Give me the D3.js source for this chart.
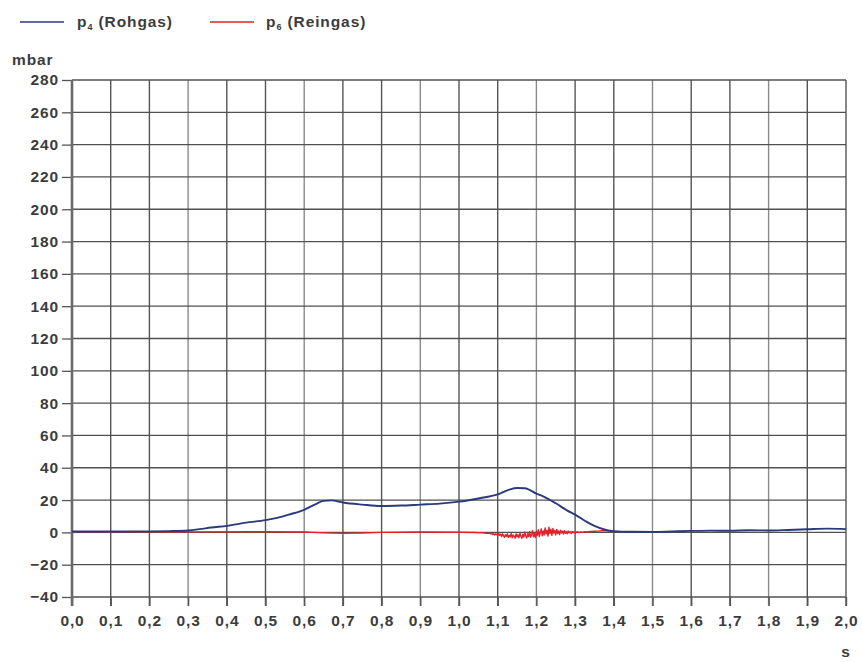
<!DOCTYPE html>
<html>
<head>
<meta charset="utf-8">
<script src="https://cdn.jsdelivr.net/npm/d3@7"></script>
<style>
  html, body { margin: 0; padding: 0; background: #ffffff; }
  svg text { font-family: "Liberation Sans", Arial, sans-serif; font-weight: bold; fill: #3c3c3c; letter-spacing: 0.9px; }
</style>
</head>
<body>
<svg id="chart" width="862" height="662"></svg>
<script>
// Axis tick values
const xTicks = [0, 0.1, 0.2, 0.3, 0.4, 0.5, 0.6, 0.7, 0.8, 0.9, 1.0, 1.1, 1.2, 1.3, 1.4, 1.5, 1.6, 1.7, 1.8, 1.9, 2.0];
const yTicks = [-40, -20, 0, 20, 40, 60, 80, 100, 120, 140, 160, 180, 200, 220, 240, 260, 280];

// p4 (Rohgas) – raw gas pressure, mbar over time in s
const p4Time = [0, 0.1, 0.2, 0.25, 0.3, 0.33, 0.36, 0.4, 0.45, 0.5, 0.53, 0.56, 0.6, 0.63, 0.65, 0.67,
  0.7, 0.75, 0.8, 0.85, 0.9, 0.95, 1.0, 1.05, 1.1, 1.13, 1.15, 1.17, 1.2, 1.22, 1.25, 1.28, 1.3,
  1.33, 1.35, 1.38, 1.4, 1.45, 1.5, 1.55, 1.6, 1.65, 1.7, 1.75, 1.8, 1.85, 1.9, 1.95, 2.0];
const p4Values = [0.5, 0.5, 0.6, 0.8, 1.2, 2, 3, 4, 6, 7.6, 9, 11, 14, 17.5, 19.5, 19.8,
  18.5, 17.2, 16.3, 16.6, 17.2, 17.8, 19, 21, 23.5, 26.5, 27.5, 27.3, 24, 22, 18, 13.5, 11,
  6.5, 4, 1.5, 0.8, 0.4, 0.3, 0.6, 0.9, 1.1, 1.0, 1.3, 1.2, 1.5, 1.9, 2.3, 2.0];

// p6 (Reingas) – clean gas pressure, mbar over time in s
const p6Time = [0, 0.3, 0.5, 0.6, 0.65, 0.7, 0.75, 0.8, 0.9, 1.0, 1.04, 1.06, 1.07,
  1.0800, 1.0825, 1.0850, 1.0875, 1.0900, 1.0925, 1.0950, 1.0975,
  1.1000, 1.1025, 1.1050, 1.1075, 1.1100, 1.1125, 1.1150, 1.1175,
  1.1200, 1.1225, 1.1250, 1.1275, 1.1300, 1.1325, 1.1350, 1.1375,
  1.1400, 1.1425, 1.1450, 1.1475, 1.1500, 1.1525, 1.1550, 1.1575,
  1.1600, 1.1625, 1.1650, 1.1675, 1.1700, 1.1725, 1.1750, 1.1775,
  1.1800, 1.1825, 1.1850, 1.1875, 1.1900, 1.1925, 1.1950, 1.1975,
  1.2000, 1.2025, 1.2050, 1.2075, 1.2100, 1.2125, 1.2150, 1.2175,
  1.2200, 1.2225, 1.2250, 1.2275, 1.2300, 1.2325, 1.2350, 1.2375,
  1.2400, 1.2425, 1.2450, 1.2475, 1.2500, 1.2525, 1.2550, 1.2575,
  1.2600, 1.2625, 1.2650, 1.2675, 1.2700, 1.2725, 1.2750, 1.2775,
  1.2800, 1.2825, 1.2850, 1.2875, 1.2900, 1.2925, 1.2950, 1.2975,
  1.3000, 1.3050, 1.3100, 1.3150, 1.3200, 1.3250, 1.3300, 1.3400,
  1.3500, 1.3600, 1.3700, 1.3800, 1.4000];
const p6Values = [0.3, 0.3, 0.4, 0.2, -0.3, -0.6, -0.4, 0, 0.2, 0.1, -0.1, -0.3, -0.5,
  -0.6, -1.0, -0.5, -1.3, -0.8, -1.6, -0.9, -1.2,
  -2.1, -0.7, -1.8, -1.1, -2.6, -0.9, -2.2, -3.0,
  -1.4, -2.5, -0.8, -3.1, -1.9, -2.7, -0.6, -3.4,
  -1.6, -2.3, -3.6, -0.9, -2.8, -1.5, -3.3, -0.4,
  -2.4, -3.7, -1.2, -2.9, 0.3, -2.2, -3.5, -0.8,
  -2.6, 0.6, -3.0, -1.4, 1.0, -2.8, -0.6, -3.2,
  0.8, -1.9, 1.6, -2.6, -0.3, 2.2, -2.1, 0.9,
  -1.7, 2.8, -1.0, 1.4, -2.3, 3.2, -0.8, 1.9,
  -1.8, 2.4, -0.5, 1.2, -1.6, 1.8, -0.7, 0.9,
  -1.4, 1.3, -0.4, 0.7, -1.1, 1.0, -0.6, 0.5,
  -0.9, 0.8, -0.3, 0.4, -0.7, 0.6, -0.2, 0.3,
  -0.5, 0.4, -0.2, 0.3, 0.0, 0.4, 0.2, 0.5,
  0.7, 0.8, 1.0, 1.0, 0.6];

const seriesNames = ["Rohgas", "Reingas"];
const colors = { p4: "#2a3a7c", p6: "#e3212b" };

const svg = d3.select("#chart");
const plotLeft = 72, plotRight = 846, plotTop = 80, plotBottom = 597;

const x = d3.scaleLinear().domain([0, 2]).range([plotLeft, plotRight]);
const y = d3.scaleLinear().domain([-40, 280]).range([plotBottom, plotTop]);

// Grid
const grid = svg.append("g");
grid.selectAll("line.v").data(xTicks.slice(1)).join("line")
  .attr("x1", d => x(d)).attr("x2", d => x(d))
  .attr("y1", plotTop).attr("y2", plotBottom + 9)
  .attr("stroke", (d, i) => (i % 3 === 2 ? "#8a8a8a" : "#555"))
  .attr("stroke-width", 1.4);
grid.selectAll("line.h").data(yTicks).join("line")
  .attr("x1", plotLeft).attr("x2", plotRight)
  .attr("y1", d => y(d)).attr("y2", d => y(d))
  .attr("stroke", "#505050")
  .attr("stroke-width", 1.3);

// Y axis
const yAxis = svg.append("g")
  .attr("transform", `translate(${plotLeft},0)`)
  .call(d3.axisLeft(y).tickValues(yTicks).tickSize(10).tickPadding(3).tickFormat(d3.format("d")));
yAxis.select(".domain").remove();
yAxis.selectAll(".tick line").attr("stroke", "#555").attr("stroke-width", 1.3);
yAxis.selectAll(".tick text").style("font-size", "15.5px").attr("fill", "#3c3c3c");

// X axis
const xAxis = svg.append("g")
  .attr("transform", `translate(0,${plotBottom})`)
  .call(d3.axisBottom(x).tickValues(xTicks).tickSize(9).tickPadding(9)
    .tickFormat(d => d3.format(".1f")(d).replace(".", ",")));
xAxis.select(".domain").remove();
xAxis.selectAll(".tick line").attr("stroke", "#555").attr("stroke-width", 1.4);
xAxis.selectAll(".tick text").style("font-size", "15.5px").attr("fill", "#3c3c3c");

// Left axis line
svg.append("line")
  .attr("x1", plotLeft).attr("x2", plotLeft).attr("y1", plotTop).attr("y2", plotBottom + 9)
  .attr("stroke", "#6a6a6a").attr("stroke-width", 2.6);

// Series
const line = d3.line().x(d => x(d[0])).y(d => y(d[1]));
svg.append("path")
  .datum(d3.zip(p6Time, p6Values))
  .attr("fill", "none").attr("stroke", colors.p6).attr("stroke-width", 1.4)
  .attr("stroke-linejoin", "round")
  .attr("d", line);
svg.append("path")
  .datum(d3.zip(p4Time, p4Values))
  .attr("fill", "none").attr("stroke", colors.p4).attr("stroke-width", 1.9)
  .attr("stroke-linejoin", "round")
  .attr("d", line.curve(d3.curveMonotoneX));

// Unit labels
svg.append("text").attr("x", 12).attr("y", 65).style("font-size", "15.5px").text("mbar");
svg.append("text").attr("x", 846).attr("y", 657).attr("text-anchor", "middle").style("font-size", "15.5px").text("s");

// Legend
const legend = [
  { key: "p4", sub: "4", name: seriesNames[0], x0: 20, tx: 77 },
  { key: "p6", sub: "6", name: seriesNames[1], x0: 210, tx: 266 }
];
const lg = svg.append("g");
legend.forEach(l => {
  lg.append("line").attr("x1", l.x0).attr("x2", l.x0 + 44).attr("y1", 22).attr("y2", 22)
    .attr("stroke", colors[l.key]).attr("stroke-width", 1.6);
  const t = lg.append("text").attr("x", l.tx).attr("y", 27).style("font-size", "15.5px");
  t.append("tspan").text("p");
  t.append("tspan").attr("dy", 3).style("font-size", "9px").text(l.sub);
  t.append("tspan").attr("dy", -3).text(` (${l.name})`);
});
</script>
</body>
</html>
